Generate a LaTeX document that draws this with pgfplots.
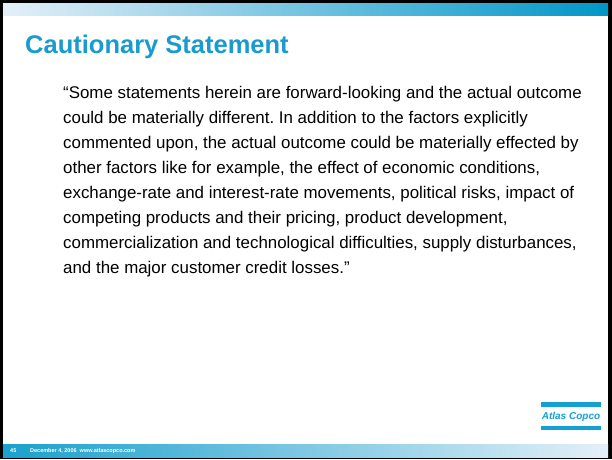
\documentclass[border=0pt]{standalone}
\usepackage{fontspec}
\setmainfont{Liberation Sans}
\usepackage{pgfplots}
\pgfplotsset{compat=1.18}

\definecolor{acblue}{HTML}{0096C8}
\definecolor{aclight}{HTML}{E4F0F8}
\definecolor{titleblue}{HTML}{1A9BD0}
\definecolor{logoblue}{HTML}{14A0D2}

\begin{document}
\frenchspacing
\begin{tikzpicture}
\begin{axis}[
  width=612pt,height=459pt,scale only axis,
  xmin=0,xmax=612,ymin=0,ymax=459,y dir=reverse,
  hide axis,clip=false]
% slide frame
\addplot[fill=black,draw=none] coordinates {(0,0) (612,0) (612,459) (0,459)} -- cycle;
\addplot[fill=white,draw=none] coordinates {(3,3) (608,3) (608,457) (3,457)} -- cycle;
% gradient bars
\addplot[draw=none,left color=aclight,right color=acblue] coordinates {(3,3) (608,3) (608,15) (3,15)} -- cycle;
\addplot[draw=none,left color=acblue!90,right color=aclight] coordinates {(3,444) (608,444) (608,457) (3,457)} -- cycle;
% logo bars
\addplot[fill=logoblue,draw=none] coordinates {(541,402) (601,402) (601,407) (541,407)} -- cycle;
\addplot[fill=logoblue,draw=none] coordinates {(541,426) (601,426) (601,430) (541,430)} -- cycle;

\node[anchor=base west,text=titleblue,font=\fontsize{25.5}{29}\selectfont\bfseries,inner sep=0pt]
  at (axis cs:25,53) {Cautionary Statement};

\node[anchor=north west,align=left,inner sep=0pt,font=\fontsize{16.9}{25}\selectfont]
  at (axis cs:63,86) {“Some statements herein are forward-looking and the actual outcome\\
could be materially different. In addition to the factors explicitly\\
commented upon, the actual outcome could be materially effected by\\
other factors like for example, the effect of economic conditions,\\
exchange-rate and interest-rate movements, political risks, impact of\\
competing products and their pricing, product development,\\
commercialization and technological difficulties, supply disturbances,\\
and the major customer credit losses.”};

\node[text=logoblue,font=\fontsize{10}{11}\selectfont\bfseries\itshape,inner sep=0pt]
  at (axis cs:571,416.5) {Atlas Copco};

\node[anchor=west,text=white,font=\fontsize{5.5}{6}\selectfont\bfseries,inner sep=0pt]
  at (axis cs:10,451) {45};
\node[anchor=west,text=white,font=\fontsize{5.5}{6}\selectfont\bfseries,inner sep=0pt]
  at (axis cs:30,451) {December 4, 2006\ \ www.atlascopco.com};
\end{axis}
\end{tikzpicture}
\end{document}
